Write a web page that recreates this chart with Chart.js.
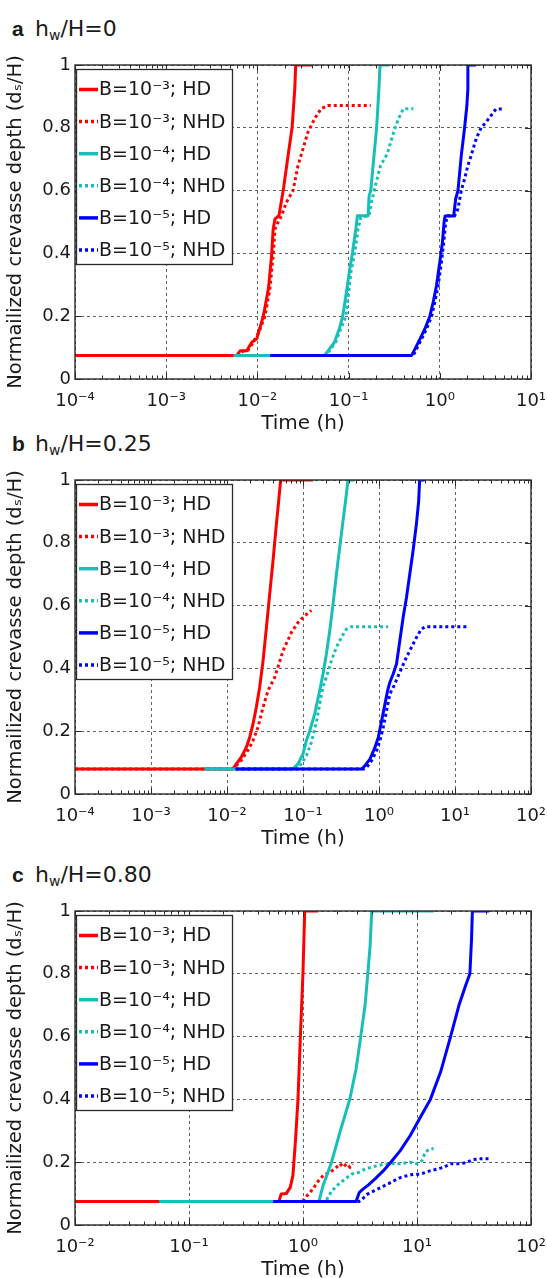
<!DOCTYPE html>
<html>
<head>
<meta charset="utf-8">
<script src="https://cdn.jsdelivr.net/npm/chart.js@4.4.1/dist/chart.umd.min.js"></script>
<style>
html,body{margin:0;padding:0;background:#fff;overflow:hidden;width:547px;height:1278px;position:relative}
canvas{position:absolute;left:0}
.ttl{position:absolute;left:0;width:300px;height:24px;color:#1a1a1a;white-space:nowrap}
.ttl b{position:absolute;top:0;left:12px;font-family:"Liberation Sans";font-size:21px;line-height:22px;font-weight:bold}
.ttl span{position:absolute;top:0;left:35px;font-family:"DejaVu Sans";font-size:22px;line-height:22px}
.ttl sub{font-size:14px;line-height:0;vertical-align:-4px}
</style>
</head>
<body>
<div class="ttl" style="top:18px"><b>a</b><span>h<sub>w</sub>/H=0</span></div>
<div class="ttl" style="top:433px"><b>b</b><span>h<sub>w</sub>/H=0.25</span></div>
<div class="ttl" style="top:864px"><b>c</b><span>h<sub>w</sub>/H=0.80</span></div>
<canvas id="ca" width="547" height="436" style="top:0px"></canvas>
<canvas id="cb" width="547" height="436" style="top:415px"></canvas>
<canvas id="cc" width="547" height="436" style="top:846px"></canvas>
<script>
// ---------- data: [time (h), normalized crevasse depth] ----------
// Panel a: hw/H = 0
const aRedHD = [[1e-4,0.075],[0.00596,0.075],[0.00649,0.09],[0.00765,0.09],[0.00868,0.117],[0.00984,0.128],[0.0116,0.2],[0.0132,0.287],[0.0143,0.393],[0.0149,0.478],[0.0156,0.51],[0.0172,0.52],[0.0192,0.6],[0.0217,0.712],[0.024,0.8],[0.0257,0.924],[0.0263,1.0],[0.0406,1.0]];
const aRedNHD = [[1e-4,0.075],[0.0062,0.075],[0.0069,0.088],[0.0079,0.092],[0.009,0.117],[0.0104,0.15],[0.0121,0.2],[0.0137,0.287],[0.0149,0.393],[0.0156,0.478],[0.0169,0.5],[0.0184,0.52],[0.0208,0.563],[0.0246,0.6],[0.0279,0.68],[0.0316,0.733],[0.0358,0.786],[0.0424,0.829],[0.05,0.861],[0.0591,0.871],[0.175,0.871]];
const aCyanHD = [[0.0055,0.075],[0.0545,0.075],[0.0617,0.096],[0.0699,0.117],[0.0792,0.16],[0.0861,0.2],[0.0935,0.266],[0.1017,0.34],[0.1105,0.404],[0.12,0.478],[0.125,0.52],[0.1636,0.52],[0.168,0.584],[0.175,0.6],[0.19,0.712],[0.203,0.8],[0.215,0.924],[0.221,1.0],[0.277,1.0]];
const aCyanNHD = [[0.0055,0.075],[0.056,0.075],[0.064,0.096],[0.072,0.117],[0.082,0.16],[0.0935,0.2],[0.106,0.34],[0.117,0.404],[0.127,0.478],[0.136,0.515],[0.168,0.52],[0.178,0.563],[0.193,0.606],[0.224,0.68],[0.264,0.715],[0.312,0.786],[0.352,0.829],[0.40,0.861],[0.513,0.861]];
const aBlueHD = [[0.0138,0.075],[0.492,0.075],[0.535,0.096],[0.607,0.128],[0.687,0.16],[0.778,0.2],[0.847,0.245],[0.92,0.298],[1.0,0.372],[1.069,0.436],[1.114,0.5],[1.143,0.519],[1.42,0.519],[1.493,0.574],[1.582,0.6],[1.721,0.712],[1.87,0.8],[1.982,0.871],[2.032,0.924],[2.032,1.0],[2.5,1.0]];
const aBlueNHD = [[0.0138,0.075],[0.51,0.075],[0.557,0.096],[0.632,0.128],[0.716,0.16],[0.812,0.2],[0.883,0.245],[0.959,0.298],[1.042,0.372],[1.105,0.436],[1.162,0.5],[1.232,0.52],[1.456,0.52],[1.582,0.542],[1.721,0.6],[1.87,0.637],[2.032,0.68],[2.208,0.712],[2.504,0.765],[2.837,0.8],[3.215,0.818],[3.644,0.839],[4.13,0.86],[5.09,0.86]];

// Panel b: hw/H = 0.25
const bRedHD = [[1e-4,0.08],[0.012,0.08],[0.0133,0.096],[0.0154,0.117],[0.018,0.149],[0.0199,0.181],[0.022,0.223],[0.0243,0.276],[0.0269,0.34],[0.0298,0.424],[0.033,0.53],[0.0364,0.636],[0.0403,0.742],[0.0446,0.858],[0.0478,0.932],[0.0508,1.0],[0.1355,1.0]];
const bRedNHD = [[1e-4,0.08],[0.0115,0.08],[0.0126,0.085],[0.0154,0.107],[0.0189,0.139],[0.022,0.17],[0.0256,0.213],[0.0298,0.276],[0.0346,0.329],[0.0424,0.371],[0.0546,0.456],[0.0702,0.514],[0.0859,0.546],[0.105,0.567],[0.129,0.585]];
const bCyanHD = [[0.0051,0.08],[0.0738,0.08],[0.0859,0.096],[0.1,0.128],[0.1107,0.17],[0.1225,0.2],[0.1425,0.255],[0.1657,0.329],[0.1834,0.382],[0.2028,0.445],[0.2245,0.519],[0.2483,0.604],[0.2748,0.699],[0.3036,0.784],[0.3358,0.869],[0.3715,0.953],[0.3907,1.0],[0.48,1.0]];
const bCyanNHD = [[0.0051,0.08],[0.0817,0.08],[0.095,0.096],[0.111,0.122],[0.129,0.165],[0.15,0.229],[0.166,0.287],[0.183,0.34],[0.209,0.382],[0.236,0.424],[0.275,0.467],[0.319,0.498],[0.372,0.525],[0.432,0.533],[1.32,0.533]];
const bBlueHD = [[0.013,0.08],[0.594,0.08],[0.657,0.091],[0.763,0.112],[0.887,0.149],[0.98,0.181],[1.062,0.223],[1.174,0.276],[1.297,0.329],[1.391,0.356],[1.538,0.382],[1.7,0.414],[1.879,0.488],[2.077,0.562],[2.296,0.625],[2.537,0.699],[2.804,0.774],[3.099,0.858],[3.324,0.932],[3.426,1.0],[3.98,1.0]];
const bBlueNHD = [[0.013,0.08],[0.63,0.08],[0.69,0.085],[0.802,0.107],[0.932,0.139],[1.03,0.17],[1.139,0.213],[1.259,0.266],[1.391,0.319],[1.585,0.346],[1.879,0.388],[2.296,0.435],[2.668,0.467],[3.099,0.498],[3.603,0.525],[4.06,0.533],[14.6,0.533]];

// Panel c: hw/H = 0.80
const cRedHD = [[0.01,0.075],[0.614,0.075],[0.644,0.099],[0.713,0.1],[0.773,0.12],[0.816,0.158],[0.861,0.274],[0.904,0.402],[0.947,0.593],[1.0,0.805],[1.035,1.0],[1.357,1.0]];
const cRedNHD = [[0.01,0.075],[1.0,0.075],[1.035,0.086],[1.145,0.102],[1.27,0.124],[1.4,0.146],[1.55,0.162],[1.72,0.167],[1.97,0.184],[2.11,0.195],[2.25,0.184],[2.41,0.195],[2.58,0.184],[2.72,0.195]];
const cCyanHD = [[0.055,0.075],[1.38,0.075],[1.5,0.126],[1.78,0.2],[2.11,0.296],[2.58,0.402],[2.92,0.497],[3.21,0.6],[3.5,0.699],[3.7,0.8],[3.88,0.89],[4.01,1.0],[14.0,1.0]];
const cCyanNHD = [[0.055,0.075],[1.58,0.075],[1.61,0.08],[1.78,0.108],[2.04,0.129],[2.33,0.146],[2.67,0.162],[3.06,0.167],[3.5,0.178],[4.15,0.186],[4.91,0.192],[5.82,0.195],[7.13,0.195],[8.73,0.2],[10.0,0.195],[11.07,0.205],[11.85,0.233],[13.1,0.243],[14.0,0.243]];
const cBlueHD = [[0.55,0.075],[2.92,0.075],[3.12,0.104],[3.38,0.115],[3.75,0.128],[4.29,0.147],[5.08,0.173],[5.89,0.2],[7.13,0.237],[8.73,0.285],[10.7,0.343],[13.1,0.4],[16.1,0.487],[19.7,0.6],[23.3,0.699],[26.7,0.763],[29.1,0.8],[30.1,0.912],[30.6,1.0],[42.9,1.0]];
const cBlueNHD = [[0.55,0.075],[3.1,0.075],[3.27,0.08],[3.62,0.097],[4.15,0.108],[4.75,0.118],[5.44,0.129],[6.22,0.14],[7.13,0.151],[8.16,0.157],[9.34,0.162],[10.7,0.162],[13.1,0.173],[15.0,0.178],[17.2,0.184],[19.7,0.195],[24.1,0.195],[27.6,0.2],[30.6,0.208],[36.2,0.211],[44.4,0.211]];

// legend labels
const SERIES_LABELS = ['B=10⁻³; HD','B=10⁻³; NHD','B=10⁻⁴; HD','B=10⁻⁴; NHD','B=10⁻⁵; HD','B=10⁻⁵; NHD'];

// axis ticks
const A_XDECADES = [1e-4,1e-3,1e-2,1e-1,1,10];
const A_XLABELS = ['10⁻⁴','10⁻³','10⁻²','10⁻¹','10⁰','10¹'];
const B_XDECADES = [1e-4,1e-3,1e-2,1e-1,1,10,100];
const B_XLABELS = ['10⁻⁴','10⁻³','10⁻²','10⁻¹','10⁰','10¹','10²'];
const C_XDECADES = [1e-2,1e-1,1,10,100];
const C_XLABELS = ['10⁻²','10⁻¹','10⁰','10¹','10²'];
const Y_TICKS = [0,0.2,0.4,0.6,0.8,1];
const Y_LABELS = ['0','0.2','0.4','0.6','0.8','1'];

const X_TITLE = 'Time (h)';
const Y_TITLE = 'Normailized crevasse depth (dₛ/H)';

// ---------- styles ----------
const COLORS = ['#ff0000','#ff0000','rgb(24,190,184)','rgb(24,190,184)','#0000ff','#0000ff'];
const DOTTED = [false,true,false,true,false,true];
const FONT = "'DejaVu Sans', sans-serif";
const TEXT = '#1a1a1a';
const GRID = 'rgba(45,45,45,0.75)';
const FRAME = '#2a2a2a';

function isDecade(v){
  const e = Math.round(Math.log10(v));
  return Math.abs(v/Math.pow(10,e) - 1) < 1e-6;
}

const framePlugin = {
  id: 'frameAndLegend',
  afterDatasetsDraw(chart){
    const ctx = chart.ctx;
    const {left, right, top, bottom} = chart.chartArea;
    const xs = chart.scales.x, ys = chart.scales.y;
    ctx.save();
    ctx.setLineDash([]);
    ctx.strokeStyle = FRAME;
    // inward tick marks
    ctx.lineWidth = 1;
    ctx.beginPath();
    xs.ticks.forEach(t => {
      const px = Math.round(xs.getPixelForValue(t.value)) + 0.5;
      const len = isDecade(t.value) ? 6 : 3.5;
      ctx.moveTo(px, bottom); ctx.lineTo(px, bottom - len);
      ctx.moveTo(px, top); ctx.lineTo(px, top + len);
    });
    ys.ticks.forEach(t => {
      const py = Math.round(ys.getPixelForValue(t.value)) + 0.5;
      ctx.moveTo(left, py); ctx.lineTo(left + 6, py);
      ctx.moveTo(right, py); ctx.lineTo(right - 6, py);
    });
    ctx.stroke();
    // box
    ctx.lineWidth = 1.4;
    ctx.strokeRect(left, top, right - left, bottom - top);
    // legend
    const lx = left + 1, ly = top + 4, lw = 156, lh = 195;
    ctx.fillStyle = '#fff';
    ctx.fillRect(lx, ly, lw, lh);
    ctx.lineWidth = 1.3;
    ctx.strokeStyle = FRAME;
    ctx.strokeRect(lx + 0.5, ly + 0.5, lw, lh);
    ctx.font = "19px " + FONT;
    ctx.textBaseline = 'middle';
    ctx.textAlign = 'left';
    chart.data.datasets.forEach((ds, i) => {
      const yy = ly + 21.5 + i * 32.1;
      ctx.strokeStyle = ds.borderColor;
      ctx.lineWidth = 3.5;
      ctx.setLineDash(ds.borderDash || []);
      ctx.beginPath();
      ctx.moveTo(lx + 3, yy - 1); ctx.lineTo(lx + 22, yy - 1);
      ctx.stroke();
      ctx.setLineDash([]);
      ctx.fillStyle = TEXT;
      ctx.fillText(ds.label, lx + 23, yy);
    });
    ctx.restore();
  }
};

function makePanel(id, series, decades, labels){
  const tickVals = [];
  decades.forEach((d, i) => {
    tickVals.push(d);
    if (i < decades.length - 1) for (let k = 2; k <= 9; k++) tickVals.push(d * k);
  });
  const datasets = series.map((arr, i) => ({
    label: SERIES_LABELS[i],
    data: arr.map(p => ({x: p[0], y: p[1]})),
    borderColor: COLORS[i],
    backgroundColor: COLORS[i],
    borderWidth: 3,
    borderDash: DOTTED[i] ? [3, 3] : [],
    borderCapStyle: 'butt',
    borderJoinStyle: DOTTED[i] ? 'miter' : 'round',
    pointRadius: 0,
    tension: 0,
    fill: false,
    order: 6 - i
  }));
  return new Chart(document.getElementById(id), {
    type: 'line',
    data: {datasets},
    plugins: [framePlugin],
    options: {
      responsive: false,
      animation: false,
      devicePixelRatio: 1,
      layout: {autoPadding: false, padding: {top: 65, right: 16, left: 0, bottom: 0}},
      plugins: {legend: {display: false}, tooltip: {enabled: false}, title: {display: false}},
      scales: {
        x: {
          type: 'logarithmic',
          position: 'bottom',
          min: decades[0],
          max: decades[decades.length - 1],
          afterBuildTicks: s => { s.ticks = tickVals.map(v => ({value: v, major: isDecade(v)})); },
          afterFit: s => { s.height = 57; s.paddingLeft = 0; s.paddingRight = 0; },
          ticks: {
            autoSkip: false, maxRotation: 0, minRotation: 0, padding: 12,
            color: TEXT, font: {family: FONT, size: 18},
            callback: (v) => {
              if (!isDecade(v)) return '';
              const idx = decades.findIndex(d => Math.abs(d / v - 1) < 1e-6);
              return idx >= 0 ? labels[idx] : '';
            }
          },
          grid: {
            drawTicks: false,
            lineWidth: 1,
            color: c => (c.tick && isDecade(c.tick.value)) ? GRID : 'rgba(0,0,0,0)'
          },
          border: {display: false, dash: [3, 3]},
          title: {display: true, text: X_TITLE, color: TEXT, font: {family: FONT, size: 20}, padding: {top: 0, bottom: 0}}
        },
        y: {
          type: 'linear',
          min: 0, max: 1,
          afterBuildTicks: s => { s.ticks = Y_TICKS.map(v => ({value: v})); },
          afterFit: s => { s.width = 75; s.paddingTop = 0; s.paddingBottom = 0; },
          ticks: {
            padding: 4, color: TEXT, font: {family: FONT, size: 18},
            callback: (v, i) => Y_LABELS[i]
          },
          grid: {drawTicks: false, lineWidth: 1, color: GRID},
          border: {display: false, dash: [3, 3]},
          title: {display: true, text: Y_TITLE, color: TEXT, font: {family: FONT, size: 19.5}, padding: {top: 4, bottom: 0}}
        }
      }
    }
  });
}

makePanel('ca', [aRedHD, aRedNHD, aCyanHD, aCyanNHD, aBlueHD, aBlueNHD], A_XDECADES, A_XLABELS);
makePanel('cb', [bRedHD, bRedNHD, bCyanHD, bCyanNHD, bBlueHD, bBlueNHD], B_XDECADES, B_XLABELS);
makePanel('cc', [cRedHD, cRedNHD, cCyanHD, cCyanNHD, cBlueHD, cBlueNHD], C_XDECADES, C_XLABELS);
</script>
</body>
</html>
